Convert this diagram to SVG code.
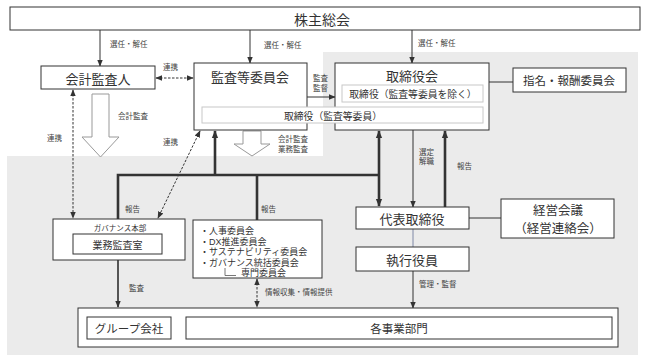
<svg xmlns="http://www.w3.org/2000/svg" width="645" height="360" viewBox="0 0 645 360">
<style>
.box{fill:#fff;stroke:#333;stroke-width:1}
.inner{fill:#fff;stroke:#c8c8c8;stroke-width:1}
.t{font-family:"Noto Sans CJK JP","Noto Sans",sans-serif;fill:#333;text-anchor:middle;dominant-baseline:central}
.s{font-family:"Liberation Sans","Noto Sans CJK JP",sans-serif;fill:#444;font-size:7.5px;dominant-baseline:central}
.c{font-family:"Liberation Sans","Noto Sans CJK JP",sans-serif;fill:#333;font-size:9px}
.ln{fill:none;stroke:#333;stroke-width:1}
.thick{fill:none;stroke:#333;stroke-width:2.6}
.dash{fill:none;stroke:#333;stroke-width:1;stroke-dasharray:2.5 1.5}
.hollow{fill:#fff;stroke:#999;stroke-width:1}
</style>
<defs>
<marker id="a" viewBox="0 0 10 10" refX="9" refY="5" markerWidth="7" markerHeight="7" markerUnits="userSpaceOnUse" orient="auto-start-reverse"><path d="M0,1 L10,5 L0,9 z" fill="#333"/></marker>
<marker id="b" viewBox="0 0 10 10" refX="9" refY="5" markerWidth="8" markerHeight="8" markerUnits="userSpaceOnUse" orient="auto-start-reverse"><path d="M0,1 L10,5 L0,9 z" fill="#333"/></marker>
</defs>
<rect width="645" height="360" fill="#fff"/>
<polygon points="323,52 638,52 638,355 7,355 7,156 323,156" fill="#ebebeb"/>

<g id="connectors">
<line class="ln" x1="100" y1="30" x2="100" y2="66" marker-end="url(#a)"/>
<line class="ln" x1="250" y1="30" x2="250" y2="63" marker-end="url(#a)"/>
<line class="ln" x1="412" y1="30" x2="412" y2="63" marker-end="url(#a)"/>
<line class="dash" x1="156" y1="78" x2="193" y2="78" marker-start="url(#a)" marker-end="url(#a)"/>
<line class="ln" x1="307" y1="97" x2="335" y2="97" marker-end="url(#a)"/>
<line class="ln" x1="489" y1="82" x2="513" y2="82"/>
<polygon class="hollow" points="92,94 109,94 109,137 119,137 100.5,157 82,137 92,137"/>
<polygon class="hollow" points="243,131 261,131 261,144 270,144 252,156 234,144 243,144"/>
<line class="dash" x1="73" y1="90" x2="73" y2="218" marker-start="url(#a)" marker-end="url(#a)"/>
<line class="dash" x1="200" y1="131" x2="158" y2="218" marker-start="url(#a)" marker-end="url(#a)"/>
<line class="thick" x1="215" y1="175" x2="215" y2="131" marker-end="url(#b)"/>
<polyline class="thick" points="118,219 118,175 379,175"/>
<line class="thick" x1="257" y1="175" x2="257" y2="220"/>
<line class="thick" x1="379" y1="131" x2="379" y2="206" marker-start="url(#b)" marker-end="url(#b)"/>
<line class="ln" x1="413" y1="130" x2="413" y2="207" marker-end="url(#a)"/>
<line class="thick" x1="445" y1="207" x2="445" y2="131" marker-end="url(#b)"/>
<line class="ln" x1="469" y1="218" x2="501" y2="218"/>
<line x1="413" y1="229" x2="413" y2="247" stroke="#7f88a6" stroke-width="1"/>
<line class="ln" x1="413" y1="271" x2="413" y2="308" marker-end="url(#a)"/>
<line x1="118" y1="260" x2="118" y2="307" stroke="#555" stroke-width="2" marker-end="url(#a)"/>
<line class="dash" x1="257" y1="279" x2="257" y2="307" marker-start="url(#a)" marker-end="url(#a)"/>
</g>

<g id="labels">
<text class="s" x="110" y="44">選任・解任</text>
<text class="s" x="264" y="45">選任・解任</text>
<text class="s" x="418" y="43">選任・解任</text>
<text class="s" x="163" y="67">連携</text>
<text class="s" x="313" y="78">監査</text>
<text class="s" x="313" y="88">監督</text>
<text class="s" x="118" y="116">会計監査</text>
<text class="s" x="47" y="138">連携</text>
<text class="s" x="163" y="142">連携</text>
<text class="s" x="278" y="139">会計監査</text>
<text class="s" x="278" y="149">業務監査</text>
<text class="s" x="125" y="209">報告</text>
<text class="s" x="261" y="209">報告</text>
<text class="s" x="419" y="152">選定</text>
<text class="s" x="419" y="161">解職</text>
<text class="s" x="457" y="166">報告</text>
<text class="s" x="129" y="288">監査</text>
<text class="s" x="265" y="292">情報収集・情報提供</text>
<text class="s" x="419" y="284">管理・監督</text>
</g>

<g id="shareholders">
<rect class="box" x="10" y="7" width="630" height="23"/>
<text class="t" x="322" y="19" font-size="14">株主総会</text>
</g>
<g id="auditor">
<rect class="box" x="41" y="66" width="114" height="23"/>
<text class="t" x="98" y="78" font-size="13">会計監査人</text>
</g>
<g id="audit-committee">
<rect class="box" x="194" y="63" width="113" height="67"/>
<text class="t" x="250" y="76" font-size="13">監査等委員会</text>
</g>
<g id="board">
<rect class="box" x="335" y="63" width="154" height="67"/>
<text class="t" x="412" y="75" font-size="13">取締役会</text>
<rect class="inner" x="342" y="85" width="141" height="17"/>
<text class="t" x="413" y="94" font-size="9.8">取締役（監査等委員を除く）</text>
</g>
<g id="audit-directors">
<rect class="inner" x="202" y="107" width="281" height="16"/>
<text class="t" x="333" y="115.5" font-size="9.8">取締役（監査等委員）</text>
</g>
<g id="nomination">
<rect class="box" x="513" y="68" width="113" height="24"/>
<text class="t" x="569" y="80" font-size="11.5">指名・報酬委員会</text>
</g>
<g id="representative">
<rect class="box" x="356" y="207" width="113" height="22"/>
<text class="t" x="412" y="218" font-size="13">代表取締役</text>
</g>
<g id="management-meeting">
<rect class="box" x="501" y="199" width="113" height="39"/>
<text class="t" x="558" y="209" font-size="12.5">経営会議</text>
<text class="t" x="558" y="227" font-size="12.5">（経営連絡会）</text>
</g>
<g id="officers">
<rect class="box" x="356" y="247" width="113" height="24"/>
<text class="t" x="412" y="259" font-size="13">執行役員</text>
</g>
<g id="governance">
<rect class="box" x="53" y="219" width="132" height="41"/>
<text class="t" x="120" y="227.5" font-size="7.5">ガバナンス本部</text>
<rect class="box" x="73" y="234" width="89" height="20"/>
<text class="t" x="117.5" y="244" font-size="10">業務監査室</text>
</g>
<g id="committees">
<rect class="box" x="193" y="220" width="129" height="58"/>
<text x="200" y="234" class="c">・人事委員会</text>
<text x="200" y="244.5" class="c">・DX推進委員会</text>
<text x="200" y="255" class="c">・サステナビリティ委員会</text>
<text x="200" y="265.5" class="c">・ガバナンス統括委員会</text>
<polyline points="225,268 225,275.5 236,275.5" fill="none" stroke="#555" stroke-width="0.8"/>
<text x="241" y="276" class="c">専門委員会</text>
</g>
<g id="group">
<rect class="box" x="78" y="308" width="540" height="39"/>
<rect class="box" x="87" y="317" width="84" height="22"/>
<text class="t" x="129" y="328" font-size="11.5">グループ会社</text>
<rect class="box" x="186" y="317" width="426" height="22"/>
<text class="t" x="399" y="328" font-size="11.5">各事業部門</text>
</g>
</svg>
